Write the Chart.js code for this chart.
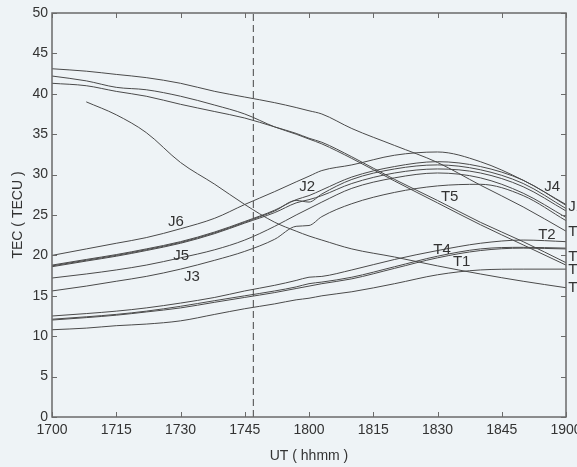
<!DOCTYPE html>
<html lang="zh">
<head>
<meta charset="UTF-8">
<title>TEC</title>
<style>
  html, body { margin: 0; padding: 0; background: #eef3f6; }
  #tec { display: block; }
</style>
</head>
<body>
<canvas id="tec" width="577" height="467"></canvas>
<script src="https://cdn.jsdelivr.net/npm/chart.js"></script>
<script>
// minutes after 17:00 UT
const minutes = [0, 8, 15, 22, 30, 38, 45, 52, 57, 60, 63, 70, 80, 90, 100, 110, 120];
const tickLabels = ['1700', '1715', '1730', '1745', '1800', '1815', '1830', '1845', '1900'];
const markerTime = 47;

// TEC values (TECU)
const j6 = [20.0, 20.8, 21.5, 22.2, 23.3, 24.6, 26.3, 27.9, 29.1, 29.8, 30.5, 31.2, 32.4, 32.8, 31.6, 29.3, 26.3];
const j4 = [18.8, 19.5, 20.1, 20.8, 21.7, 22.9, 24.2, 25.6, 26.9, 27.4, 28.1, 29.7, 31.0, 31.6, 31.0, 29.3, 26.2];
const j2 = [18.7, 19.4, 20.0, 20.7, 21.6, 22.8, 24.1, 25.5, 26.8, 26.6, 27.6, 29.4, 30.7, 31.2, 30.6, 28.9, 25.8];
const j1 = [18.6, 19.3, 19.9, 20.6, 21.5, 22.7, 24.0, 25.3, 26.5, 26.9, 27.4, 28.9, 30.2, 30.7, 30.2, 28.5, 25.5];
const j5 = [17.2, 17.7, 18.2, 18.8, 19.7, 20.7, 21.9, 23.6, 25.0, 25.8, 26.6, 28.3, 29.6, 30.2, 29.6, 27.7, 24.7];
const j3 = [15.6, 16.2, 16.8, 17.4, 18.3, 19.4, 20.5, 22.0, 23.6, 23.7, 24.8, 26.4, 27.8, 28.6, 28.8, 27.4, 24.3];
const t3 = [43.1, 42.8, 42.4, 42.0, 41.3, 40.3, 39.6, 38.9, 38.3, 37.9, 37.5, 35.7, 33.6, 31.5, 28.7, 26.0, 23.0];
const t5 = [42.2, 41.6, 40.8, 40.5, 39.7, 38.6, 37.5, 35.9, 35.0, 34.4, 33.8, 32.0, 29.2, 26.5, 23.8, 21.3, 18.8];
const t7 = [41.3, 41.0, 40.3, 39.7, 38.7, 37.8, 37.0, 35.9, 35.1, 34.5, 34.0, 32.2, 29.4, 26.8, 24.1, 21.7, 19.1];
const t6 = [null, 39.0, 37.4, 35.2, 31.5, 28.8, 26.3, 24.1, 23.0, 22.4, 21.9, 20.8, 19.8, 18.7, 17.7, 16.8, 16.0];
const t2 = [12.5, 12.8, 13.1, 13.5, 14.1, 14.8, 15.6, 16.3, 16.9, 17.3, 17.4, 18.2, 19.5, 20.6, 21.5, 21.9, 21.7];
const t4 = [12.1, 12.4, 12.7, 13.1, 13.7, 14.4, 15.0, 15.6, 16.1, 16.5, 16.7, 17.3, 18.6, 19.9, 20.8, 21.0, 20.9];
const t1 = [12.0, 12.3, 12.6, 13.0, 13.5, 14.2, 14.8, 15.4, 15.9, 16.2, 16.5, 17.1, 18.4, 19.7, 20.6, 20.9, 20.8];
const t8 = [10.8, 11.0, 11.3, 11.5, 11.9, 12.7, 13.4, 14.0, 14.5, 14.7, 15.0, 15.5, 16.5, 17.6, 18.2, 18.3, 18.3];

// curve names written on the plot, at (minute, TEC)
const labelNames = ['J6', 'J5', 'J3', 'J2', 'T5', 'J4', 'T4', 'T1', 'T2', 'J1', 'T3', 'T7', 'T8', 'T6'];
const labelTimes = [27.1, 28.3, 30.8, 57.7, 90.8, 114.9, 89.0, 93.6, 113.5, 120.5, 120.5, 120.5, 120.5, 120.5];
const labelTec   = [24.1, 20.0, 17.3, 28.5, 27.2, 28.5, 20.7, 19.2, 22.5, 26.0, 22.9, 19.8, 18.2, 16.0];

const series = { j6, j4, j2, j1, j5, j3, t3, t5, t7, t6, t2, t4, t1, t8 };
const FONT = "'Liberation Sans', Arial, sans-serif";
const INK = '#333';

const datasets = Object.entries(series).map(([name, vals]) => ({
  label: name,
  data: minutes.map((m, i) => ({ x: m, y: vals[i] })),
  borderColor: '#4a4a4a',
  borderWidth: 1,
  pointRadius: 0,
  cubicInterpolationMode: 'monotone',
  fill: false
}));
datasets.push({
  label: 'marker',
  data: [{ x: markerTime, y: 0 }, { x: markerTime, y: 50 }],
  borderColor: '#444',
  borderWidth: 1,
  borderDash: [7, 4],
  pointRadius: 0
});

// frame with inward ticks on all four sides, plus curve names
const framePlugin = {
  id: 'frame',
  afterDraw(chart) {
    const { ctx, chartArea: a, scales: { x, y } } = chart;
    ctx.save();
    ctx.strokeStyle = '#6a6a6a';
    ctx.lineWidth = 1.5;
    ctx.strokeRect(a.left, a.top, a.right - a.left, a.bottom - a.top);
    ctx.lineWidth = 1;
    ctx.beginPath();
    x.ticks.forEach(t => {
      const px = Math.round(x.getPixelForValue(t.value)) + 0.5;
      ctx.moveTo(px, a.bottom); ctx.lineTo(px, a.bottom - 5);
      ctx.moveTo(px, a.top); ctx.lineTo(px, a.top + 5);
    });
    y.ticks.forEach(t => {
      const py = Math.round(y.getPixelForValue(t.value)) + 0.5;
      ctx.moveTo(a.left, py); ctx.lineTo(a.left + 5, py);
      ctx.moveTo(a.right, py); ctx.lineTo(a.right - 5, py);
    });
    ctx.stroke();

    ctx.fillStyle = INK;
    ctx.font = '15px ' + FONT;
    ctx.textAlign = 'left';
    ctx.textBaseline = 'middle';
    labelNames.forEach((n, i) => {
      ctx.fillText(n, x.getPixelForValue(labelTimes[i]), y.getPixelForValue(labelTec[i]));
    });
    ctx.restore();
  }
};

new Chart(document.getElementById('tec'), {
  type: 'line',
  data: { datasets },
  options: {
    responsive: false,
    animation: false,
    layout: { padding: { top: 13, right: 11, bottom: 0, left: 0 } },
    plugins: { legend: { display: false }, tooltip: { enabled: false } },
    scales: {
      x: {
        type: 'linear', min: 0, max: 120,
        afterFit(s) { s.height = 50; s.paddingLeft = 0; s.paddingRight = 0; },
        grid: { display: false, drawTicks: false },
        border: { display: false },
        ticks: {
          stepSize: 15, padding: 5, color: INK, maxRotation: 0,
          font: { family: FONT, size: 14 },
          callback: (v, i) => tickLabels[i]
        },
        title: {
          display: true, text: 'UT ( hhmm )', color: INK,
          font: { family: FONT, size: 14 }, padding: { top: 0, bottom: 2 }
        }
      },
      y: {
        min: 0, max: 50,
        afterFit(s) { s.width = 52; s.paddingTop = 0; s.paddingBottom = 0; },
        grid: { display: false, drawTicks: false },
        border: { display: false },
        ticks: { stepSize: 5, padding: 4, color: INK, font: { family: FONT, size: 14 } },
        title: {
          display: true, text: 'TEC ( TECU )', color: INK,
          font: { family: FONT, size: 14 }, padding: { top: 10, bottom: 0 }
        }
      }
    }
  },
  plugins: [framePlugin]
});
</script>
</body>
</html>
